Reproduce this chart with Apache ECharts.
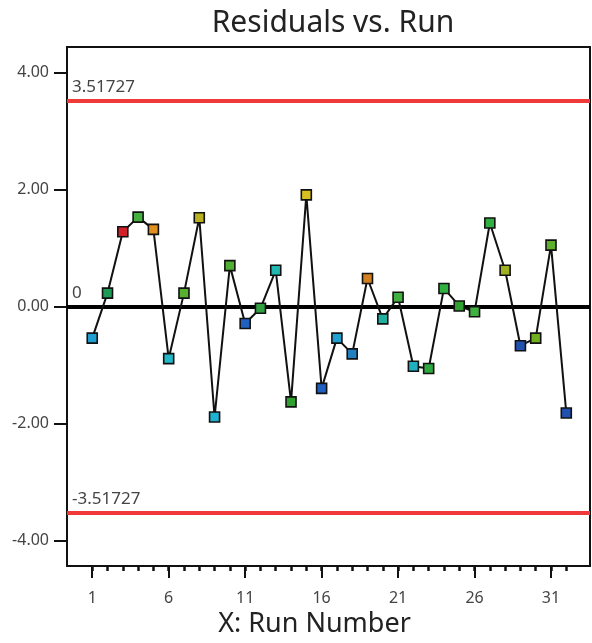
<!DOCTYPE html>
<html>
<head>
<meta charset="utf-8">
<script src="https://cdn.jsdelivr.net/npm/echarts@6/dist/echarts.min.js"></script>
<style>
html,body{margin:0;padding:0;background:#fff;}
#chart{width:592px;height:643px;}
</style>
</head>
<body>
<div id="chart"></div>
<script>
var runs = [1,2,3,4,5,6,7,8,9,10,11,12,13,14,15,16,17,18,19,20,21,22,23,24,25,26,27,28,29,30,31,32];
var residuals = [-0.54,0.23,1.28,1.53,1.32,-0.89,0.23,1.52,-1.89,0.70,-0.29,-0.03,0.62,-1.63,1.91,-1.40,-0.54,-0.81,0.48,-0.21,0.16,-1.02,-1.06,0.31,0.01,-0.09,1.43,0.62,-0.67,-0.54,1.05,-1.82];
var pointColors = ['#1f9fd0','#1f9a55','#d0202a','#44b040','#e0901e','#22b8c8','#58b030','#b8b020','#20b0d0','#50b030','#2060c0','#30a040','#20b8b0','#30a030','#d8c020','#2060c0','#20a0d0','#2080c0','#d08020','#20b0a0','#40b040','#20b0c0','#30a840','#30b040','#30a030','#40b040','#30b040','#a0b020','#2050b0','#70b020','#60b030','#2050b0'];
var controlLimits = [3.51727, -3.51727];
var centerLine = [0];
var yTicks = [-4, -2, 0, 2, 4];
var xMajorTicks = [1, 6, 11, 16, 21, 26, 31];
var xMinorTicks = runs;

var chart = echarts.init(document.getElementById('chart'), null, {renderer: 'canvas'});
var font = 'Noto Sans';
var xMin = -0.65, xMax = 33.55, yMin = -4.44, yMax = 4.44;

function refLine(v, color) {
  return {
    yAxis: v,
    lineStyle: {color: color, width: 4, type: 'solid'},
    label: {show: true, position: 'insideStartTop', formatter: String(v), color: '#444', fontSize: 17, fontFamily: font, distance: [5, 5]}
  };
}
var lines = controlLimits.map(function (v) { return refLine(v, '#f03a3a'); })
  .concat(centerLine.map(function (v) { return refLine(v, '#000'); }));

var option = {
  animation: false,
  backgroundColor: '#fff',
  title: {
    text: 'Residuals vs. Run',
    left: 328, textAlign: 'center', top: 3,
    textStyle: {fontFamily: font, fontSize: 30, fontWeight: 'normal', color: '#222'}
  },
  grid: {left: 67, right: 2, top: 47, bottom: 68, show: true, borderColor: '#111', borderWidth: 2, containLabel: false},
  xAxis: [{
    type: 'value', min: xMin, max: xMax, position: 'bottom',
    name: 'X: Run Number', nameLocation: 'middle', nameGap: 40,
    nameTextStyle: {fontFamily: font, fontSize: 27, color: '#222', padding: [0, 28, 0, 0]},
    axisLine: {show: true, onZero: false, lineStyle: {color: '#111', width: 2}},
    axisTick: {show: true, length: 12, lineStyle: {color: '#111', width: 2}, customValues: xMajorTicks},
    axisLabel: {show: true, customValues: xMajorTicks, margin: 24, fontFamily: font, fontSize: 16, color: '#444'},
    splitLine: {show: false}
  }, {
    type: 'value', min: xMin, max: xMax, position: 'bottom',
    axisLine: {show: false, onZero: false},
    axisTick: {show: true, length: 5, lineStyle: {color: '#111', width: 2.5}, customValues: xMinorTicks},
    axisLabel: {show: false},
    splitLine: {show: false}
  }],
  yAxis: {
    type: 'value', min: yMin, max: yMax,
    axisLine: {show: true, onZero: false, lineStyle: {color: '#111', width: 2}},
    axisTick: {show: true, length: 13, lineStyle: {color: '#111', width: 2}, customValues: yTicks},
    axisLabel: {show: true, customValues: yTicks, margin: 18, fontFamily: font, fontSize: 16, color: '#444',
      formatter: function (v) { return v.toFixed(2); }},
    splitLine: {show: false}
  },
  series: [{
    type: 'line', xAxisIndex: 0, data: [], z: 1, silent: true,
    markLine: {silent: true, symbol: 'none', animation: false, data: lines}
  }, {
    type: 'line', xAxisIndex: 0, z: 5,
    data: runs.map(function (r, i) {
      return {value: [r, residuals[i]], itemStyle: {color: pointColors[i]}};
    }),
    symbol: 'rect', symbolSize: 10, showAllSymbol: true,
    lineStyle: {color: '#111', width: 2},
    itemStyle: {borderColor: '#111', borderWidth: 1.6}
  }]
};
chart.setOption(option);
</script>
</body>
</html>
